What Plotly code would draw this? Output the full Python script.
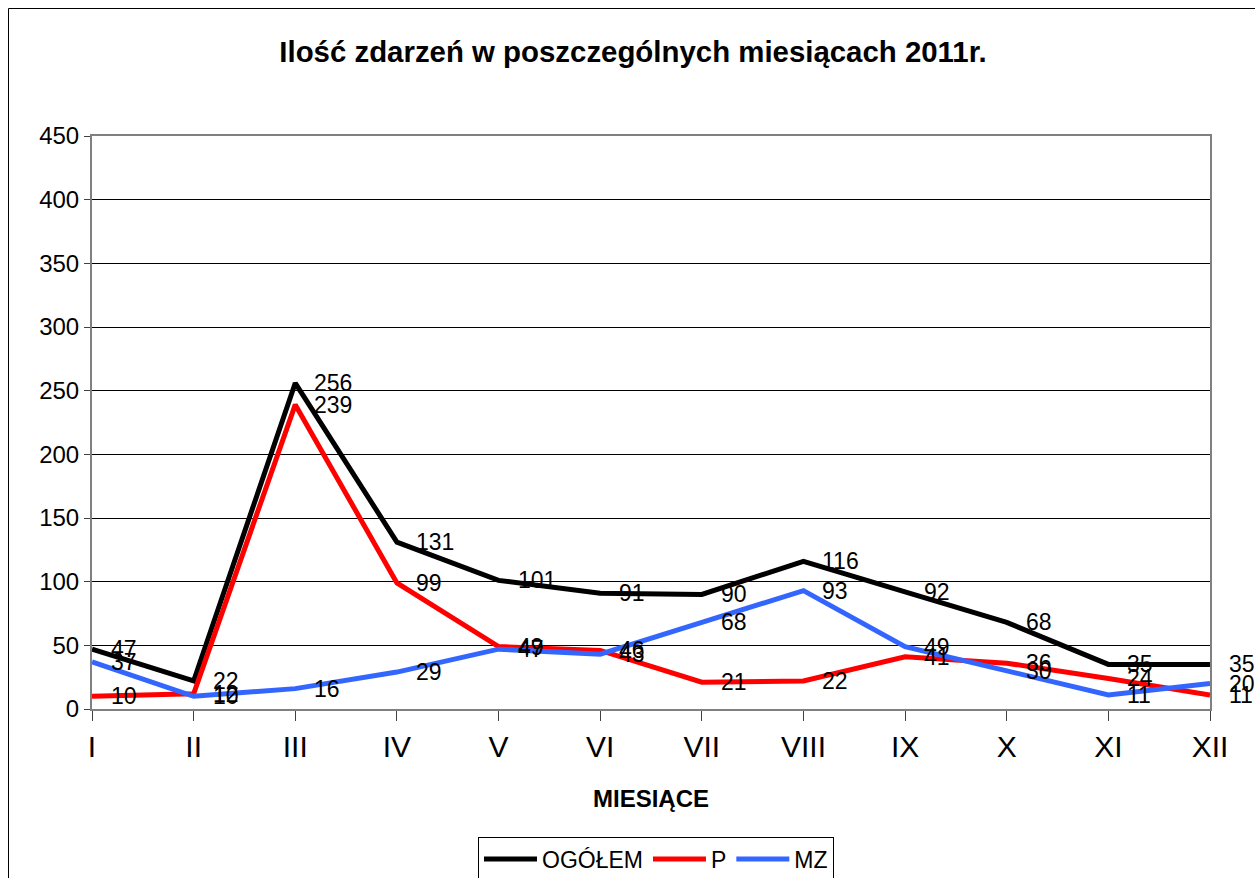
import plotly.graph_objects as go

months = ["I", "II", "III", "IV", "V", "VI", "VII", "VIII", "IX", "X", "XI", "XII"]
ogolem = [47, 22, 256, 131, 101, 91, 90, 116, 92, 68, 35, 35]
p_vals = [10, 12, 239, 99, 49, 46, 21, 22, 41, 36, 24, 11]
mz_vals = [37, 10, 16, 29, 47, 43, 68, 93, 49, 30, 11, 20]

series = [
    ("OGÓŁEM", ogolem, "#000000"),
    ("P", p_vals, "#FF0000"),
    ("MZ", mz_vals, "#3366FF"),
]

FONT = "Arial, Liberation Sans, sans-serif"
W, H = 1255, 878
# plot area in page pixels: x 92..1210, y 136..709
L = 92
T = 136
R = W - 1210
B = H - 709
PW = W - L - R
PH = H - T - B


def px_to_paper_x(px):
    return (px - L) / PW


def px_to_paper_y(py):
    return (H - B - py) / PH


fig = go.Figure()
annotations = []
for name, vals, color in series:
    fig.add_trace(go.Scatter(
        x=months, y=vals, mode="lines", name=name,
        line=dict(color=color, width=5),
    ))
    for m, v in zip(months, vals):
        annotations.append(dict(
            x=m, y=v, xref="x", yref="y", text=str(v), showarrow=False,
            xanchor="left", yanchor="middle", xshift=17,
            font=dict(family=FONT, size=23, color="black"),
        ))

fig.add_shape(
    type="rect", xref="paper", yref="paper",
    x0=px_to_paper_x(8.5), x1=px_to_paper_x(1275),
    y0=px_to_paper_y(900), y1=px_to_paper_y(8.5),
    line=dict(color="black", width=1), layer="below",
)

fig.update_layout(
    width=W, height=H,
    margin=dict(l=L, r=R, t=T, b=B, autoexpand=False),
    paper_bgcolor="white", plot_bgcolor="white",
    font=dict(family=FONT, color="black"),
    title=dict(
        text="<b>Ilość zdarzeń w poszczególnych miesiącach 2011r.</b>",
        x=px_to_paper_x(633), xref="paper", xanchor="center",
        y=1 - 52 / H, yanchor="middle",
        font=dict(family=FONT, size=29.4, color="black"),
    ),
    showlegend=True,
    legend=dict(
        orientation="h", x=px_to_paper_x(656), xanchor="center",
        y=px_to_paper_y(859), yanchor="middle",
        bordercolor="black", borderwidth=1,
        font=dict(family=FONT, size=23, color="black"),
        bgcolor="white", itemwidth=53,
    ),
    annotations=annotations,
)

fig.update_xaxes(
    type="category", range=[0, 11],
    showgrid=False, showline=True, linecolor="#808080", linewidth=2, mirror=True,
    ticks="outside", ticklen=10, tickcolor="#404040", tickwidth=1,
    tickfont=dict(family=FONT, size=30, color="black"),
    title=dict(text="<b>MIESIĄCE</b>", font=dict(family=FONT, size=24, color="black"), standoff=28),
    zeroline=False,
)
fig.update_yaxes(
    range=[0, 450], dtick=50, tick0=0,
    showgrid=True, gridcolor="black", gridwidth=1,
    showline=True, linecolor="#808080", linewidth=2, mirror=True,
    ticks="outside", ticklen=6, tickcolor="#404040", tickwidth=1,
    tickfont=dict(family=FONT, size=24, color="black"),
    zeroline=False,
)

fig.write_html(
    "out.html",
    config={"displayModeBar": False},
    post_script="document.body.style.margin='0';document.body.style.overflow='hidden';",
)
